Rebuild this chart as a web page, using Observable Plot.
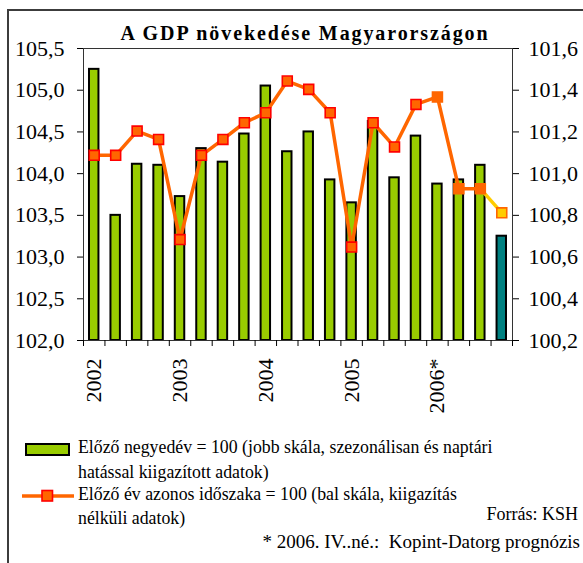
<!DOCTYPE html>
<html><head><meta charset="utf-8">
<script src="https://cdn.jsdelivr.net/npm/d3@7"></script>
<script src="https://cdn.jsdelivr.net/npm/@observablehq/plot@0.6"></script>
<style>
html,body{margin:0;padding:0;background:#fff;}
#page{position:relative;width:583px;height:563px;overflow:hidden;font-family:"Liberation Serif",serif;color:#000;}
#page, #page div, #page svg, #page svg text{font-family:"Liberation Serif",serif !important;}
#frame{position:absolute;left:7px;top:9px;width:640px;height:640px;border:2px solid #3c3c3c;box-sizing:border-box;}
#chart{position:absolute;left:0;top:0;}
#title{position:absolute;left:0;width:610px;text-align:center;top:21px;font-weight:bold;font-size:20px;letter-spacing:1.9px;line-height:24px;}
.lg{position:absolute;font-size:17.8px;line-height:20px;white-space:pre;}
#sw1{position:absolute;left:25px;top:443px;width:45px;height:13px;background:#99CC00;border:2px solid #000;box-sizing:border-box;}
#sw2{position:absolute;left:20px;top:488px;}
</style></head><body>
<div id="page">
<div id="frame"></div>
<div id="chart"></div>
<div id="title">A GDP növekedése Magyarországon</div>
<div id="sw1"></div>
<svg id="sw2" width="58" height="16"><line x1="2" y1="8" x2="54" y2="8" stroke="#FF6600" stroke-width="3.5"/><rect x="22" y="2.5" width="10.5" height="10.5" fill="#FF6600" stroke="#FF0000" stroke-width="1.6"/></svg>
<div class="lg" style="left:78px;top:437px">Előző negyedév = 100 (jobb skála, szezonálisan és naptári</div>
<div class="lg" style="left:78px;top:462px">hatással kiigazított adatok)</div>
<div class="lg" style="left:78px;top:484px">Előző év azonos időszaka = 100 (bal skála, kiigazítás</div>
<div class="lg" style="left:78px;top:508px">nélküli adatok)</div>
<div class="lg" style="right:5px;top:504px;font-size:18px">Forrás: KSH</div>
<div class="lg" style="right:3px;top:532px;font-size:19px">* 2006. IV..né.:  Kopint-Datorg prognózis</div>
</div>
<script>
const quarters = ["2002 I","2002 II","2002 III","2002 IV","2003 I","2003 II","2003 III","2003 IV",
  "2004 I","2004 II","2004 III","2004 IV","2005 I","2005 II","2005 III","2005 IV",
  "2006 I","2006 II","2006 III","2006 IV"];
// Előző negyedév = 100 (right scale)
const qoq = [101.50,100.80,101.045,101.04,100.89,101.12,101.055,101.19,
  101.42,101.105,101.20,100.97,100.86,101.25,100.98,101.18,
  100.95,100.97,101.04,100.70];
// Előző év azonos időszaka = 100 (left scale)
const yoy = [104.22,104.22,104.51,104.41,103.21,104.22,104.41,104.61,
  104.73,105.11,105.01,104.73,103.12,104.61,104.32,104.83,
  104.92,103.82,103.82,103.53];
const status = ["tény","tény","tény","tény","tény","tény","tény","tény",
  "tény","tény","tény","tény","tény","tény","tény","tény",
  "előzetes","előzetes","előzetes","prognózis"];
const years = ["2002","2003","2004","2005","2006*"];
const leftTicks = [102.0,102.5,103.0,103.5,104.0,104.5,105.0,105.5];
const rightTicks = [100.2,100.4,100.6,100.8,101.0,101.2,101.4,101.6];

const L0 = leftTicks[0], L1 = leftTicks[leftTicks.length-1];
const R0 = rightTicks[0], R1 = rightTicks[rightTicks.length-1];
const toLeft = v => L0 + (v - R0) * (L1 - L0) / (R1 - R0);
const toRight = v => R0 + (v - L0) * (R1 - R0) / (L1 - L0);
const fmt = v => v.toFixed(1).replace(".", ",");

const rows = quarters.map((q, i) => ({q, i, qoq: qoq[i], yoy: yoy[i], status: status[i]}));
const firstQ = rows.filter(d => d.q.endsWith(" I"));
const barFill = {"tény": "#99CC00", "előzetes": "#99CC00", "prognózis": "#008080"};
const dotFill = {"tény": "#FF6600", "előzetes": "#FF6600", "prognózis": "#FFCC00"};
const dotStroke = {"tény": "#FF0000", "előzetes": "#FF6600", "prognózis": "#FF6600"};

const chart = Plot.plot({
  width: 583, height: 420,
  marginLeft: 83, marginRight: 71, marginTop: 48, marginBottom: 80,
  x: {domain: [0, quarters.length], axis: null},
  y: {domain: [L0, L1], axis: null},
  color: {type: "identity"},
  style: {fontFamily: "Liberation Serif, serif", fontSize: "22px", background: "transparent", overflow: "visible", color: "#000"},
  marks: [
    Plot.rectY(rows, {x1: "i", x2: d => d.i + 1, y1: L0, y2: d => toLeft(d.qoq),
      insetLeft: 6, insetRight: 6, fill: d => barFill[d.status], stroke: "#000", strokeWidth: 2}),
    Plot.frame({stroke: "#333", strokeWidth: 1}),
    Plot.axisY({anchor: "left", ticks: leftTicks, tickFormat: fmt, tickSize: 6, tickPadding: 13, label: null, fontSize: 22}),
    Plot.axisY({anchor: "right", ticks: rightTicks.map(toLeft), tickFormat: d => fmt(toRight(d)), tickSize: 6, tickPadding: 10, label: null, fontSize: 22}),
    Plot.axisX({anchor: "bottom", ticks: d3.range(0, quarters.length + 1), tickFormat: () => "", tickSize: 6, label: null}),
    Plot.text(firstQ, {x: d => d.i + 0.5, y: L0, text: (d, k) => years[k], dy: 18, rotate: -90, textAnchor: "end", fontSize: 22}),
    Plot.line(rows.slice(0, 19), {x: d => d.i + 0.5, y: "yoy", stroke: "#FF6600", strokeWidth: 3.5}),
    Plot.line(rows.slice(18), {x: d => d.i + 0.5, y: "yoy", stroke: "#FFCC00", strokeWidth: 3.5}),
    Plot.dot(rows, {x: d => d.i + 0.5, y: "yoy", symbol: "square", r: 5.6,
      fill: d => dotFill[d.status], stroke: d => dotStroke[d.status], strokeWidth: 1.6})
  ]
});
document.getElementById("chart").appendChild(chart);
</script>
</body></html>
